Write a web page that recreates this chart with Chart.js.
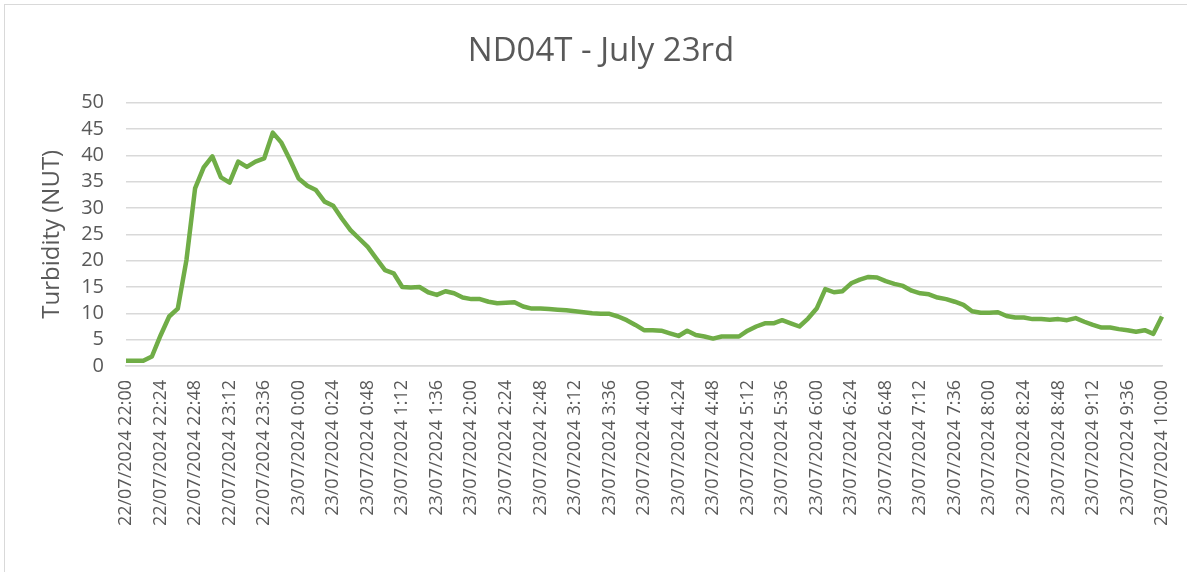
<!DOCTYPE html>
<html>
<head>
<meta charset="utf-8">
<script src="https://cdn.jsdelivr.net/npm/chart.js@4"></script>
<style>
  html, body { margin: 0; padding: 0; background: #fff; }
  #wrap { position: relative; width: 1187px; height: 572px; overflow: hidden; }
  #frame { position: absolute; left: 4px; top: 4px; width: 1200px; height: 600px;
           border-left: 1.5px solid #d9d9d9; border-top: 1.5px solid #d9d9d9; }
  canvas { position: absolute; left: 0; top: 0; }
</style>
</head>
<body>
<div id="wrap">
  <div id="frame"></div>
  <canvas id="myChart" width="1187" height="572"></canvas>
</div>
<script>
// readings every 6 minutes, 22/07/2024 22:00 -> 23/07/2024 10:00
const turbidity = [
  1.0, 1.0, 1.0, 1.8, 5.8, 9.4, 10.9, 20.1, 33.7, 37.7,
  39.8, 35.8, 34.8, 38.8, 37.8, 38.8, 39.4, 44.3, 42.4, 39.1,
  35.6, 34.2, 33.4, 31.2, 30.4, 28.0, 25.8, 24.2, 22.6, 20.4,
  18.2, 17.6, 15.0, 14.9, 15.0, 14.0, 13.5, 14.2, 13.8, 13.0,
  12.7, 12.7, 12.2, 11.9, 12.0, 12.1, 11.3, 10.9, 10.9, 10.8,
  10.7, 10.6, 10.4, 10.2, 10.0, 9.9, 9.9, 9.4, 8.7, 7.8,
  6.8, 6.8, 6.7, 6.2, 5.7, 6.7, 5.9, 5.6, 5.2, 5.6,
  5.6, 5.6, 6.7, 7.5, 8.1, 8.1, 8.7, 8.1, 7.5, 9.0,
  10.9, 14.6, 14.0, 14.2, 15.7, 16.4, 16.9, 16.8, 16.1, 15.6,
  15.2, 14.3, 13.8, 13.6, 13.0, 12.7, 12.2, 11.6, 10.4, 10.1,
  10.1, 10.2, 9.5, 9.2, 9.2, 8.9, 8.9, 8.8, 8.9, 8.7,
  9.1, 8.4, 7.8, 7.3, 7.3, 7.0, 6.8, 6.5, 6.8, 6.1,
  9.4
]
const yTicks = [0, 5, 10, 15, 20, 25, 30, 35, 40, 45, 50]
const labelEvery = 4   // one label per 24 minutes

const times = []
for (let i = 0; i < turbidity.length; i++) {
  const m = 22 * 60 + i * 6
  const day = m >= 1440 ? 23 : 22
  const h = Math.floor((m % 1440) / 60)
  const mm = String(m % 60).padStart(2, '0')
  times.push(day + '/07/2024 ' + h + ':' + mm)
}

const grey = '#595959'
const font = 'Open Sans'

const ctx = document.getElementById('myChart').getContext('2d')
const myChart = new Chart(ctx, {
  type: 'line',
  data: {
    labels: times,
    datasets: [{
      label: 'Turbidity',
      data: turbidity,
      borderColor: '#70ad47',
      backgroundColor: '#70ad47',
      borderWidth: 4.5,
      pointRadius: 0,
      tension: 0,
      borderJoinStyle: 'round'
    }]
  },
  options: {
    responsive: false,
    animation: false,
    layout: { padding: { left: 40, right: 25, top: 0, bottom: 0 } },
    plugins: {
      legend: { display: false },
      tooltip: { enabled: false },
      title: {
        display: true,
        text: 'ND04T - July 23rd',
        color: grey,
        font: { family: font, size: 33, weight: 'normal' },
        padding: { top: 32, bottom: 31 }
      }
    },
    scales: {
      x: {
        grid: { display: false, drawTicks: false },
        border: { display: true, color: '#d9d9d9', width: 1.5 },
        ticks: {
          autoSkip: false,
          minRotation: 90,
          maxRotation: 90,
          padding: 14,
          color: grey,
          font: { family: font, size: 18 },
          callback: function (v, i) {
            return i % labelEvery === 0 ? times[i] : null
          }
        },
        afterFit: function (s) {
          s.height = 206
          s.paddingLeft = 0
          s.paddingRight = 0
        }
      },
      y: {
        min: 0,
        max: 50,
        afterBuildTicks: function (s) { s.ticks = yTicks.map(v => ({ value: v })) },
        grid: { color: '#d9d9d9', lineWidth: 1.5, drawTicks: false },
        border: { display: false },
        ticks: {
          autoSkip: false,
          padding: 22,
          color: grey,
          font: { family: font, size: 20 }
        },
        title: {
          display: true,
          text: 'Turbidity (NUT)',
          color: grey,
          font: { family: font, size: 24, weight: 'normal', lineHeight: 1 },
          padding: { top: 0, bottom: 0 }
        },
        afterFit: function (s) {
          s.width = 86
          s.paddingTop = 0
          s.paddingBottom = 0
        }
      }
    }
  }
})
</script>
</body>
</html>
